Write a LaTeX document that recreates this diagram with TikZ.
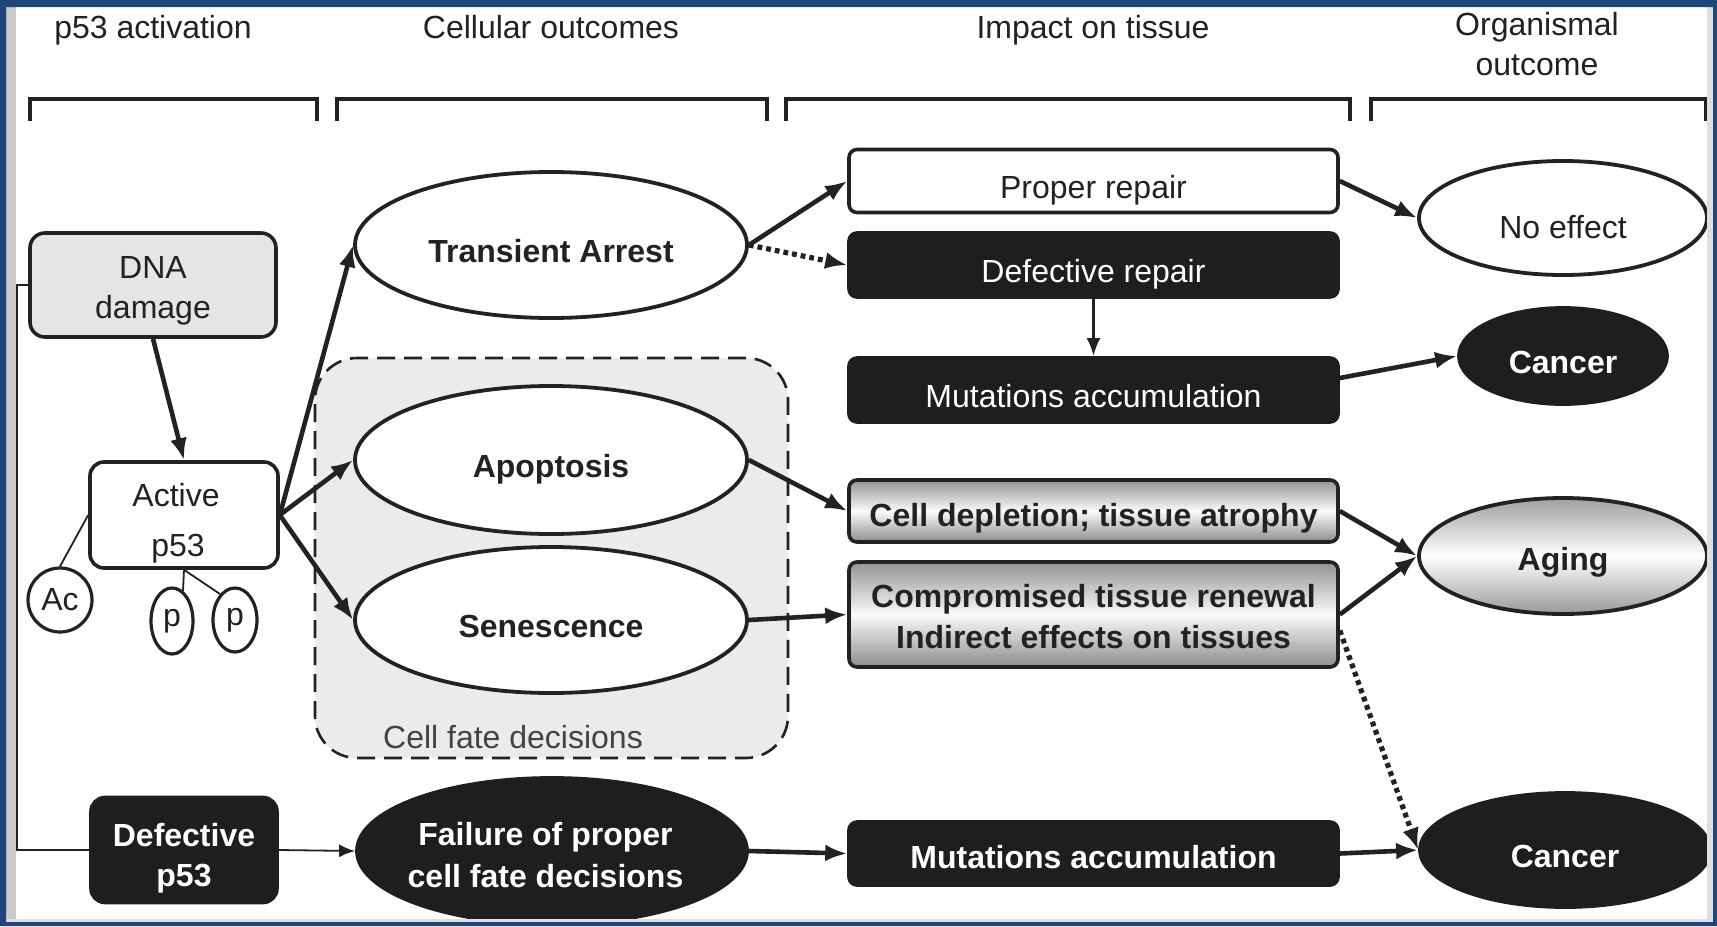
\documentclass[tikz,border=0pt]{standalone}
\usepackage{fontspec}
\setmainfont{Liberation Sans}
\usetikzlibrary{shapes.geometric,arrows.meta}
\definecolor{frameblue}{RGB}{31,69,122}
\definecolor{boxblack}{RGB}{30,30,30}
\definecolor{ink}{RGB}{34,34,34}
\begin{document}
\begin{tikzpicture}[x=0.5pt,y=-0.5pt,
  tx/.style={font=\fontsize{16}{20}\selectfont, text=ink},
  bx/.style={font=\fontsize{16}{20}\selectfont\bfseries, text=ink},
  rbox/.style={draw=ink, rectangle, rounded corners=4pt, line width=1.8pt, minimum width=244.5pt, inner sep=0pt, align=center},
  blk/.style={fill=boxblack, draw=boxblack, text=white},
  metal/.style={top color=gray!85, bottom color=gray!90, middle color=white!96!gray},
  ell/.style={draw=ink, ellipse, line width=1.9pt, inner sep=0pt, align=center},
  low/.style={text height=17.6pt, text depth=0pt},
  arr/.style={draw=ink, line width=2.3pt, -{Latex[length=11pt,width=8.5pt]}},
  dotarr/.style={draw=ink, line width=2.6pt, dash pattern=on 2.4pt off 2pt, -{Latex[length=11pt,width=8.5pt]}},
  thin/.style={draw=ink, line width=0.9pt},
  brk/.style={draw=ink, line width=2pt},
]
\useasboundingbox (0,0) rectangle (1717,926);
\fill[white] (0,0) rectangle (1717,926);
\fill[gray!42] (6,7) rectangle (16,922);

% headers
\node[tx, anchor=base] (h1) at (153,39) {p53 activation};
\node[tx, anchor=base] (h2) at (551,39) {Cellular outcomes};
\node[tx, anchor=base] (h3) at (1093,39) {Impact on tissue};
\node[tx, anchor=base] (h4a) at (1537,35) {Organismal};
\node[tx, anchor=base] (h4b) at (1537,75) {outcome};

% brackets
\draw[brk] (30,121) -- (30,99) -- (317,99) -- (317,121);
\draw[brk] (337,121) -- (337,99) -- (767,99) -- (767,121);
\draw[brk] (786,121) -- (786,99) -- (1350,99) -- (1350,121);
\draw[brk] (1371,121) -- (1371,99) -- (1706,99) -- (1706,121);

% cell fate group
\node[draw=ink, line width=1.3pt, dash pattern=on 9pt off 4.5pt, fill=gray!16, rounded corners=21pt,
      minimum width=236.5pt, minimum height=200pt, inner sep=0pt] (fate) at (551.5,558) {};
\node[tx, text=ink!85] (fatelbl) at (513,737) {Cell fate decisions};

% p53 activation column
\node[rbox, fill=gray!20, minimum width=123pt, minimum height=52pt, rounded corners=7.5pt, tx] (dna) at (153,285) {\rule{0pt}{17pt}DNA\\damage};
\node[rbox, fill=white, minimum width=94pt, minimum height=53pt, rounded corners=7pt] (active) at (184,515) {};
\node[tx, anchor=base] (activeA) at (176,506) {Active};
\node[tx, anchor=base] (activeB) at (178,556) {p53};
\node[draw=ink, circle, line width=1.6pt, minimum size=32pt, inner sep=0pt, tx] (ac) at (60,600) {Ac};
\node[draw=ink, ellipse, line width=1.6pt, minimum width=21pt, minimum height=33pt, inner sep=0pt, tx] (p1) at (172,621) {p};
\node[draw=ink, ellipse, line width=1.6pt, minimum width=22pt, minimum height=32pt, inner sep=0pt, tx] (p2) at (235,620) {p};
\node[rbox, blk, minimum width=93pt, minimum height=52.5pt, rounded corners=7pt, bx, text=white] (defp) at (184,850) {\rule{0pt}{19.5pt}Defective\\p53};

% cellular outcomes
\node[ell, fill=white, minimum width=196pt, minimum height=73pt, bx, low] (transient) at (551,245) {Transient Arrest};
\node[ell, fill=white, minimum width=196pt, minimum height=74pt, bx, low] (apoptosis) at (551,460) {Apoptosis};
\node[ell, fill=white, minimum width=196pt, minimum height=73pt, bx, low] (senescence) at (551,620) {Senescence};
\node[ell, blk, minimum width=195pt, minimum height=73pt, font=\fontsize{16}{21}\selectfont\bfseries, text=white] (failure) at (552,851) {\hspace*{-6.5pt}\rule{0pt}{16pt}Failure of proper\\\hspace*{-6.5pt}cell fate decisions};

% impact on tissue
\node[rbox, fill=white, minimum height=31.5pt, tx, low] (proper) at (1093.5,181) {Proper repair};
\node[rbox, blk, minimum height=32pt, tx, text=white, low] (defrep) at (1093.5,265) {Defective repair};
\node[rbox, blk, minimum height=32pt, tx, text=white, low] (mut1) at (1093.5,390) {Mutations accumulation};
\node[rbox, metal, minimum height=31pt, bx, text height=15pt, text depth=0pt] (celldep) at (1093.5,511) {Cell depletion; tissue atrophy};
\node[rbox, metal, minimum height=52.5pt, bx, font=\fontsize{16}{20.5}\selectfont\bfseries] (comp) at (1093.5,614.5) {\rule{0pt}{13.5pt}Compromised tissue renewal\\Indirect effects on tissues};
\node[rbox, blk, minimum height=31.5pt, bx, text=white, text height=15pt, text depth=0pt] (mut2) at (1093.5,853.5) {Mutations accumulation};

% organismal outcome
\node[ell, fill=white, minimum width=144pt, minimum height=57pt, tx, text height=20pt, text depth=0pt] (noeffect) at (1563,218) {No effect};
\node[ell, blk, minimum width=104pt, minimum height=48pt, bx, text=white, low] (cancer1) at (1563,356) {Cancer};
\node[ell, top color=gray!75, bottom color=gray!80, middle color=white, minimum width=144pt, minimum height=58pt, bx, text height=14pt, text depth=0pt] (aging) at (1563,556) {Aging};
\node[ell, blk, minimum width=145pt, minimum height=57pt, bx, text=white, low] (cancer2) at (1565,850) {Cancer};

% connectors
\draw[arr] (dna.south) -- (active.north);
\draw[arr] (active.east) -- (transient.west);
\draw[arr] (active.east) -- (apoptosis.west);
\draw[arr] (active.east) -- (senescence.west);
\draw[thin] (ac.north) -- (active.west);
\draw[thin] (active.south) -- (p1.70);
\draw[thin] (active.south) -- (p2.120);
\coordinate (lt) at (17,285);
\coordinate (lb) at (17,850);
\draw[thin] (dna.west) -- (lt) -- (lb) -- (defp.west);
\draw[thin, -{Latex[length=8pt,width=6.5pt]}] (defp.east) -- (failure.west);

\draw[arr] (transient.east) -- (proper.west);
\draw[dotarr] (transient.east) -- (defrep.west);
\draw[draw=ink, line width=1.6pt, -{Latex[length=9pt,width=7pt]}] (defrep.south) -- (mut1.north);
\draw[arr] (proper.east) -- (noeffect.west);
\draw[arr] ([yshift=6pt]mut1.east) -- (cancer1.west);
\draw[arr] (apoptosis.east) -- (celldep.west);
\draw[arr] (senescence.east) -- (comp.west);
\draw[arr] (celldep.east) -- (aging.west);
\draw[arr] (comp.east) -- (aging.west);
\draw[dotarr] ([yshift=-8pt]comp.east) -- (cancer2.west);
\draw[arr] (failure.east) -- (mut2.west);
\draw[arr] (mut2.east) -- (cancer2.west);

% frame
\fill[gray!25] (1707,7) rectangle (1713,922);
\fill[gray!25] (6,919) rectangle (1713,922);
\fill[frameblue, even odd rule] (0,0) rectangle (1717,926) (6,7) rectangle (1713,922);
\end{tikzpicture}
\end{document}
